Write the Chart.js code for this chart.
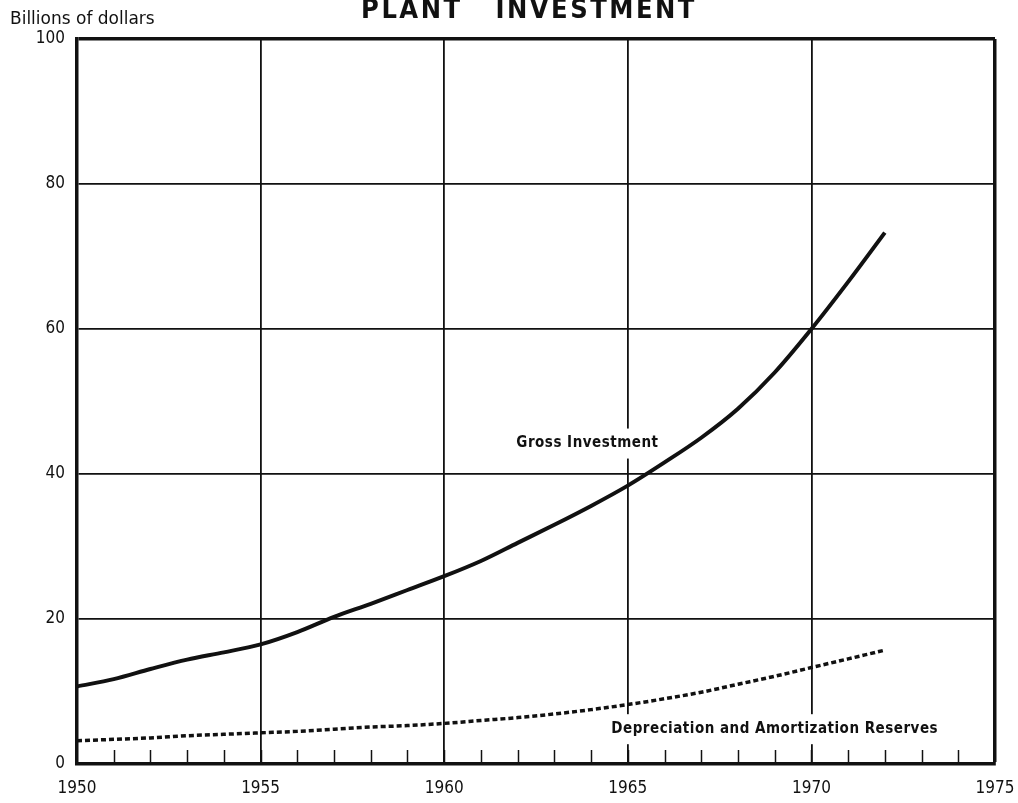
<!DOCTYPE html>
<html>
<head>
<meta charset="utf-8">
<script src="https://cdn.jsdelivr.net/npm/chart.js@4.4.1/dist/chart.umd.min.js"></script>
<style>
  html, body { margin: 0; padding: 0; background: #fff; }
</style>
</head>
<body>
<canvas id="myChart" width="1018" height="803"></canvas>
<script>
// Years along the x-axis
var years = [1950,1951,1952,1953,1954,1955,1956,1957,1958,1959,1960,1961,1962,1963,1964,1965,1966,1967,1968,1969,1970,1971,1972];
// Billions of dollars
var gross = [10.7,11.7,13.1,14.4,15.4,16.5,18.2,20.3,22.1,24.0,25.9,28.0,30.5,33.0,35.6,38.4,41.6,45.0,49.0,54.0,60.0,66.5,73.3];
var depreciation = [3.2,3.4,3.6,3.9,4.1,4.3,4.5,4.8,5.1,5.3,5.6,6.0,6.4,6.9,7.5,8.2,9.0,9.9,11.0,12.1,13.3,14.5,15.7];
// Axis ticks
var xTicks = [1950,1955,1960,1965,1970,1975];
var yTicks = [0,20,40,60,80,100];
// Line labels and where they sit (year, value)
var labelText = ["Gross Investment", "Depreciation and Amortization Reserves"];
var labelYear = [1963.9, 1969.0];
var labelValue = [44.2, 4.8];

var NARROW = '"DejaVu Sans Condensed", sans-serif';

function toPoints(vals) {
  return vals.map(function (v, i) { return { x: years[i], y: v }; });
}

// Title, unit note, minor year ticks and in-chart labels
var paperText = {
  id: 'paperText',
  afterDatasetsDraw: function (chart) {
    var c = chart.ctx, xs = chart.scales.x, ys = chart.scales.y;
    c.save();
    // minor ticks for each year, standing on the x axis
    c.strokeStyle = '#111';
    c.lineWidth = 1.5;
    for (var yr = xs.min + 1; yr < xs.max; yr++) {
      var px = Math.round(xs.getPixelForValue(yr)) + 0.5;
      c.beginPath();
      c.moveTo(px, chart.chartArea.bottom);
      c.lineTo(px, chart.chartArea.bottom - 14);
      c.stroke();
    }
    // labels with white paper behind them
    c.font = 'bold 15px ' + NARROW;
    c.letterSpacing = '0.5px';
    c.textAlign = 'center';
    c.textBaseline = 'middle';
    for (var i = 0; i < labelText.length; i++) {
      var lx = xs.getPixelForValue(labelYear[i]);
      var ly = ys.getPixelForValue(labelValue[i]);
      var w = c.measureText(labelText[i]).width;
      c.fillStyle = '#fff';
      c.fillRect(lx - w / 2 - 5, ly - 15, w + 10, 30);
      c.fillStyle = '#111';
      c.fillText(labelText[i], lx, ly);
    }
    // title and unit
    c.letterSpacing = '2.5px';
    c.font = 'bold 27px ' + NARROW;
    c.textBaseline = 'alphabetic';
    c.fillText('PLANT   INVESTMENT', 529, 18);
    c.letterSpacing = '0px';
    c.font = '17px "DejaVu Sans", sans-serif';
    c.textAlign = 'left';
    c.fillText('Billions of dollars', 10, 24);
    c.restore();
  }
};

var ctx = document.getElementById("myChart");
var myChart = new Chart(ctx, {
  type: 'line',
  data: {
    datasets: [
      {
        data: toPoints(gross),
        label: "Gross Investment",
        borderColor: "#111",
        borderWidth: 4,
        pointRadius: 0,
        cubicInterpolationMode: 'monotone',
        fill: false
      },
      {
        data: toPoints(depreciation),
        label: "Depreciation and Amortization Reserves",
        borderColor: "#111",
        borderWidth: 3.5,
        borderDash: [5, 3],
        borderCapStyle: 'butt',
        pointRadius: 0,
        cubicInterpolationMode: 'monotone',
        fill: false
      }
    ]
  },
  options: {
    responsive: false,
    animation: false,
    layout: { padding: { top: 39, right: 23, left: 0, bottom: 0 } },
    plugins: {
      legend: { display: false },
      tooltip: { enabled: false }
    },
    scales: {
      x: {
        type: 'linear',
        min: 1950,
        max: 1975,
        afterBuildTicks: function (s) { s.ticks = xTicks.map(function (v) { return { value: v }; }); },
        afterFit: function (s) { s.height = 39; s.paddingLeft = 0; s.paddingRight = 0; },
        border: { color: '#111', width: 3.5 },
        grid: {
          color: '#111',
          lineWidth: function (c) { return c.tick && c.tick.value === 1975 ? 3.5 : 1.8; },
          drawTicks: false
        },
        ticks: {
          color: '#111',
          padding: 14,
          maxRotation: 0,
          font: { family: NARROW, size: 17 },
          callback: function (v) { return String(v); }
        }
      },
      y: {
        min: 0,
        max: 100,
        afterBuildTicks: function (s) { s.ticks = yTicks.map(function (v) { return { value: v }; }); },
        afterFit: function (s) { s.width = 77; s.paddingTop = 0; s.paddingBottom = 0; },
        border: { color: '#111', width: 3.5 },
        grid: {
          color: '#111',
          lineWidth: function (c) { return c.tick && c.tick.value === 100 ? 3.5 : 1.8; },
          drawTicks: false
        },
        ticks: {
          color: '#111',
          padding: 12,
          font: { family: NARROW, size: 17 },
          callback: function (v) { return String(v); }
        }
      }
    }
  },
  plugins: [paperText]
});
</script>
</body>
</html>
